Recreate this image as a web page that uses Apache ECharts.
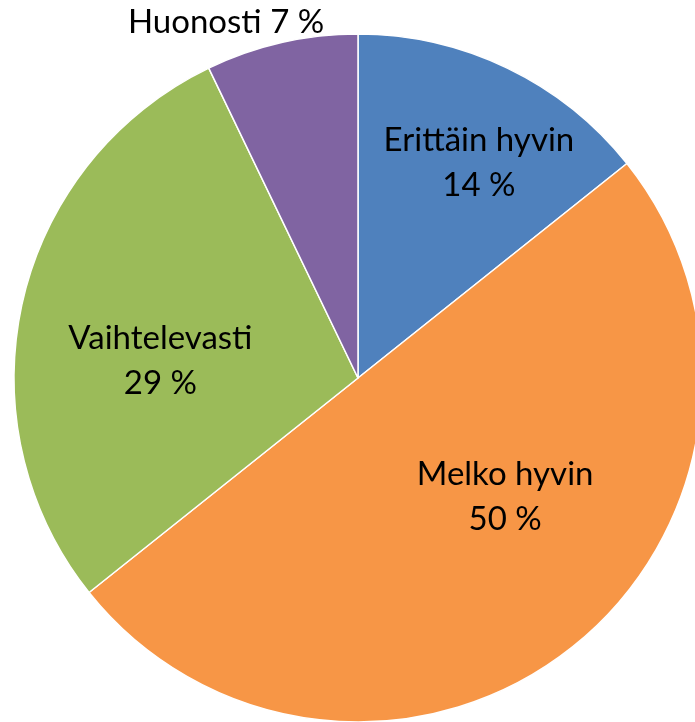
<!DOCTYPE html>
<html>
<head>
<meta charset="utf-8">
<script src="https://cdn.jsdelivr.net/npm/echarts@6/dist/echarts.min.js"></script>
<style>
  html, body { margin: 0; padding: 0; background: #fff; }
  #chart { width: 695px; height: 722px; }
</style>
</head>
<body>
<div id="chart"></div>
<script>
// answers, clockwise from 12 o'clock (counts, shown as rounded %)
const categories = ['Erittäin hyvin', 'Melko hyvin', 'Vaihtelevasti', 'Huonosti'];
const counts = [2, 7, 4, 1];
const colors = ['#4F81BD', '#F79646', '#9BBB59', '#8064A2'];

// label nudges away from the default "inside" spot
const labelShift = [[45, -57], [38, -18], [-27, 22], [-93, -185]];

const chart = echarts.init(document.getElementById('chart'));

chart.setOption({
  animation: false,
  series: [{
    type: 'pie',
    center: [358, 378],
    radius: 344,
    startAngle: 90,
    clockwise: true,
    percentPrecision: 0,
    avoidLabelOverlap: false,
    itemStyle: { borderColor: '#fff', borderWidth: 1.5 },
    label: {
      position: 'inside',
      color: '#000',
      fontFamily: 'Lato, sans-serif',
      fontSize: 33,
      lineHeight: 45,
      formatter: p => p.dataIndex === 3
        ? p.name + ' ' + p.percent + ' %'
        : p.name + '\n' + p.percent + ' %'
    },
    labelLine: { show: false },
    emphasis: { disabled: true },
    labelLayout: p => ({ dx: labelShift[p.dataIndex][0], dy: labelShift[p.dataIndex][1] }),
    data: categories.map((name, i) => ({
      name: name,
      value: counts[i],
      itemStyle: { color: colors[i] }
    }))
  }]
});
</script>
</body>
</html>
